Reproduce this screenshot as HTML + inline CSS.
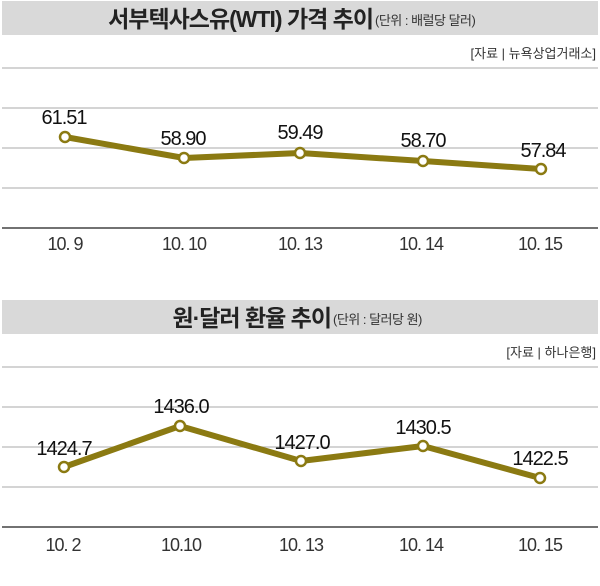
<!DOCTYPE html>
<html><head><meta charset="utf-8"><style>
body{margin:0;background:#fff;}
svg text{font-family:"Liberation Sans","Noto Sans CJK KR",sans-serif;}
</style></head><body>
<svg width="600" height="581" viewBox="0 0 600 581" xmlns="http://www.w3.org/2000/svg">
<rect width="600" height="581" fill="#fff"/>
<!-- top chart -->
<rect x="2" y="1" width="596" height="34" fill="#d9d9d9"/>
<text x="373" y="27" font-size="23" font-weight="bold" fill="#222" text-anchor="end" letter-spacing="-1">서부텍사스유(WTI) 가격 추이</text>
<text x="375" y="25" font-size="13" fill="#333" letter-spacing="-0.5">(단위 : 배럴당 달러)</text>
<text x="596" y="58" font-size="13" fill="#333" text-anchor="end">[자료 | 뉴욕상업거래소]</text>
<g stroke="#bbb" stroke-width="1.2">
<line x1="2" y1="68" x2="598" y2="68"/><line x1="2" y1="108" x2="598" y2="108"/>
<line x1="2" y1="148" x2="598" y2="148"/><line x1="2" y1="188" x2="598" y2="188"/>
</g>
<line x1="2" y1="228" x2="598" y2="228" stroke="#444" stroke-width="1.5"/>
<polyline points="65,137 184,158 300,153 423,161 541,169" fill="none" stroke="#8b7a12" stroke-width="6" stroke-linejoin="round"/>
<g fill="#fff" stroke="#8b7a12" stroke-width="2.5">
<circle cx="65" cy="137" r="5"/><circle cx="184" cy="158" r="5"/><circle cx="300" cy="153" r="5"/><circle cx="423" cy="161" r="5"/><circle cx="541" cy="169" r="5"/>
</g>
<g font-size="20" fill="#111" text-anchor="middle" letter-spacing="-1">
<text x="64" y="124">61.51</text><text x="183" y="145">58.90</text><text x="300" y="139">59.49</text><text x="423" y="147">58.70</text><text x="543" y="157">57.84</text>
</g>
<g font-size="18" fill="#333" text-anchor="middle" letter-spacing="-1">
<text x="65" y="250">10. 9</text><text x="184" y="250">10. 10</text><text x="300" y="250">10. 13</text><text x="421" y="250">10. 14</text><text x="540" y="250">10. 15</text>
</g>
<!-- bottom chart -->
<rect x="2" y="300" width="596" height="34" fill="#d9d9d9"/>
<text x="331" y="326" font-size="23" font-weight="bold" fill="#222" text-anchor="end" letter-spacing="-1">원·달러 환율 추이</text>
<text x="333" y="324" font-size="13" fill="#333" letter-spacing="-0.5">(단위 : 달러당 원)</text>
<text x="596" y="357" font-size="13" fill="#333" text-anchor="end">[자료 | 하나은행]</text>
<g stroke="#bbb" stroke-width="1.2">
<line x1="2" y1="367" x2="598" y2="367"/><line x1="2" y1="407" x2="598" y2="407"/>
<line x1="2" y1="447" x2="598" y2="447"/><line x1="2" y1="487" x2="598" y2="487"/>
</g>
<line x1="2" y1="527" x2="598" y2="527" stroke="#444" stroke-width="1.5"/>
<polyline points="64,467 180,426 301,461 423,446 540,478" fill="none" stroke="#8b7a12" stroke-width="6" stroke-linejoin="round"/>
<g fill="#fff" stroke="#8b7a12" stroke-width="2.5">
<circle cx="64" cy="467" r="5"/><circle cx="180" cy="426" r="5"/><circle cx="301" cy="461" r="5"/><circle cx="423" cy="446" r="5"/><circle cx="540" cy="478" r="5"/>
</g>
<g font-size="20" fill="#111" text-anchor="middle" letter-spacing="-1">
<text x="64" y="455">1424.7</text><text x="181" y="413">1436.0</text><text x="302" y="449">1427.0</text><text x="423" y="434">1430.5</text><text x="540" y="465">1422.5</text>
</g>
<g font-size="18" fill="#333" text-anchor="middle" letter-spacing="-1">
<text x="63" y="551">10. 2</text><text x="181" y="551">10.10</text><text x="301" y="551">10. 13</text><text x="421" y="551">10. 14</text><text x="540" y="551">10. 15</text>
</g>
</svg>
</body></html>
